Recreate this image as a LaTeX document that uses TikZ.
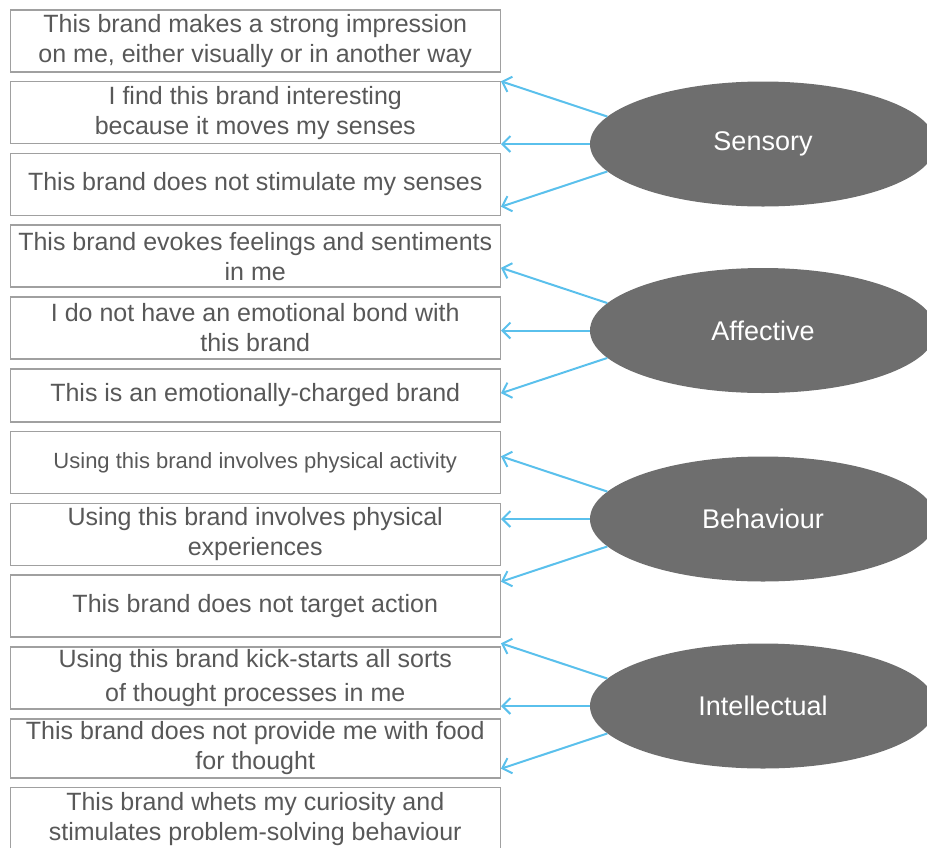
\documentclass[tikz,border=0pt]{standalone}
\usepackage{fontspec}
\setmainfont{Liberation Sans}
\usepackage{tikz}
\usetikzlibrary{shapes.geometric, arrows.meta, positioning}
\usepackage{xcolor}

\definecolor{itemtext}{RGB}{88,88,88}
\definecolor{itemline}{RGB}{160,160,160}
\definecolor{facetfill}{RGB}{110,110,110}
\definecolor{linkblue}{RGB}{90,192,236}

\begin{document}
\begin{tikzpicture}[
    x=1pt, y=-1pt,
    node distance=8.3pt,
    item/.style={rectangle, draw=itemline, line width=1.5pt, text=itemtext, align=center, minimum width=490pt, minimum height=62pt, inner sep=2pt, font=\fontsize{25}{30}\selectfont},
    facet/.style={ellipse, fill=facetfill, text=white, minimum width=346pt, minimum height=125pt, font=\fontsize{27}{32}\selectfont},
    link/.style={draw=linkblue, line width=2pt, -{Straight Barb[length=8pt,width=16pt,line width=2pt]}}
]

\useasboundingbox (0,0) rectangle (927,847);
\clip (0,0) rectangle (927,847);

% statements
\node[item, anchor=north] (b1) at (255.25,9) {This brand makes a strong impression\\on me, either visually or in another way};
\node[item, below=of b1] (b2) {I find this brand interesting\\because it moves my senses};
\node[item, below=of b2] (b3) {This brand does not stimulate my senses};
\node[item, below=of b3] (b4) {This brand evokes feelings and sentiments\\in me};
\node[item, below=of b4] (b5) {I do not have an emotional bond with\\this brand};
\node[item, below=of b5, minimum height=53pt] (b6) {This is an emotionally-charged brand};
\node[item, below=of b6, font=\fontsize{22}{27}\selectfont] (b7) {Using this brand involves physical activity};
\node[item, below=of b7] (b8) {Using this brand involves physical\\experiences};
\node[item, below=of b8] (b9) {This brand does not target action};
\node[item, below=of b9, font=\fontsize{25}{34}\selectfont] (b10) {Using this brand kick-starts all sorts\\of thought processes in me};
\node[item, below=of b10, minimum height=59pt] (b11) {This brand does not provide me with food\\for thought};
\node[item, below=of b11] (b12) {This brand whets my curiosity and\\stimulates problem-solving behaviour};

% dimensions
\node[facet] (sens) at (763,144) {Sensory};
\node[facet] (affe) at (763,330.5) {Affective};
\node[facet] (behv) at (763,519) {Behaviour};
\node[facet] (intl) at (763,706) {Intellectual};

\draw[link] (sens.170) -- (b2.east |- sens.north);
\draw[link] (sens.west) -- (b2.east |- sens.west);
\draw[link] (sens.190) -- (b3.east |- sens.south);

\draw[link] (affe.170) -- (b4.east |- affe.north);
\draw[link] (affe.west) -- (b5.east |- affe.west);
\draw[link] (affe.190) -- (b6.east |- affe.south);

\draw[link] (behv.170) -- (b7.east |- behv.north);
\draw[link] (behv.west) -- (b8.east |- behv.west);
\draw[link] (behv.190) -- (b9.east |- behv.south);

\draw[link] (intl.170) -- (b10.east |- intl.north);
\draw[link] (intl.west) -- (b10.east |- intl.west);
\draw[link] (intl.190) -- (b11.east |- intl.south);

\end{tikzpicture}
\end{document}
